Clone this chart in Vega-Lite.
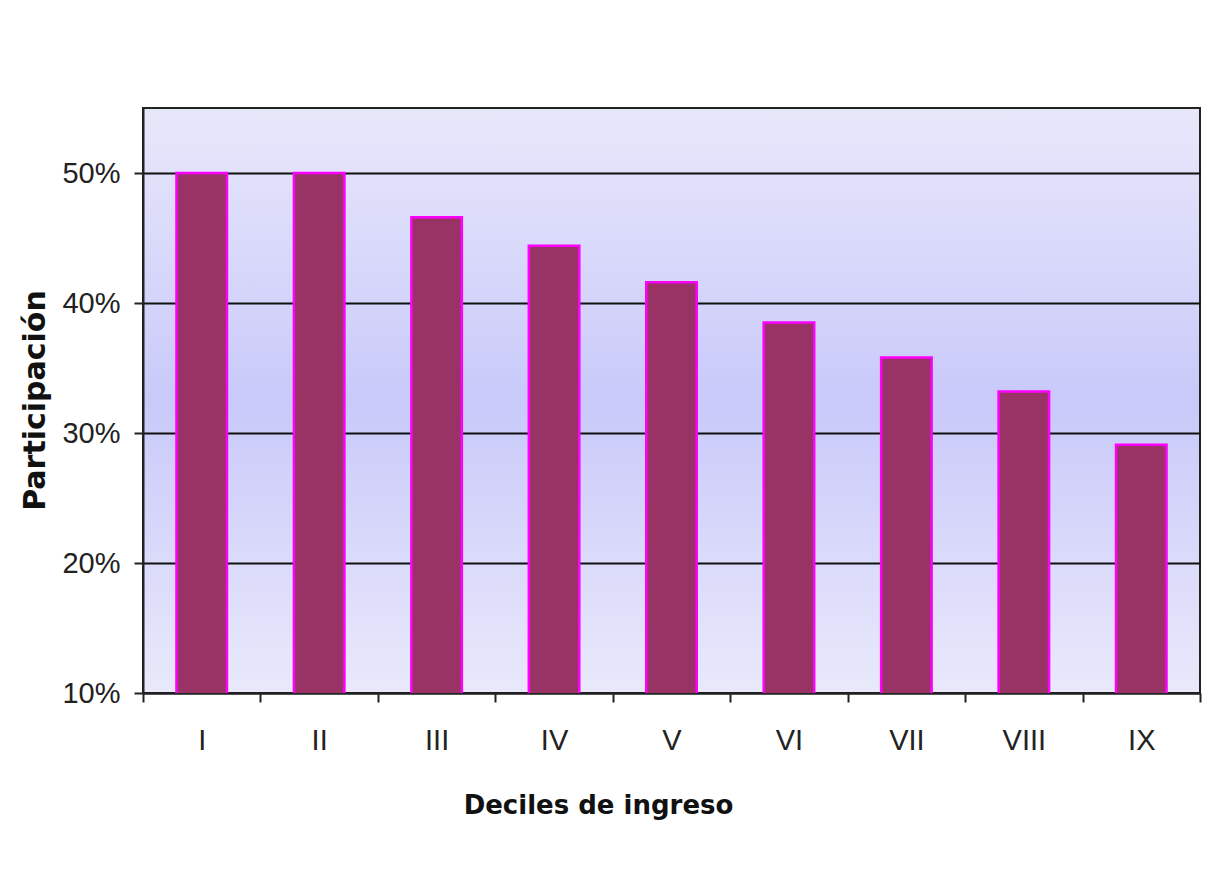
{
  "$schema": "https://vega.github.io/schema/vega-lite/v6.json",
  "width": 1057,
  "height": 585,
  "autosize": {"type": "none"},
  "padding": {"left": 143, "top": 108, "right": 29, "bottom": 181},
  "background": "white",
  "config": {
    "view": {
      "stroke": "#222222",
      "strokeWidth": 2,
      "fill": {
        "gradient": "linear",
        "x1": 0, "y1": 0, "x2": 0, "y2": 1,
        "stops": [
          {"offset": 0, "color": "#E8E8FB"},
          {"offset": 0.5, "color": "#C9C9FA"},
          {"offset": 1, "color": "#E9E9FB"}
        ]
      }
    }
  },
  "data": {
    "values": [
      {"decil": "I", "participacion": 0.500},
      {"decil": "II", "participacion": 0.500},
      {"decil": "III", "participacion": 0.466},
      {"decil": "IV", "participacion": 0.444},
      {"decil": "V", "participacion": 0.416},
      {"decil": "VI", "participacion": 0.385},
      {"decil": "VII", "participacion": 0.358},
      {"decil": "VIII", "participacion": 0.332},
      {"decil": "IX", "participacion": 0.291}
    ]
  },
  "mark": {"type": "bar", "fill": "#993366", "stroke": "#FF00FF", "strokeWidth": 2.5, "clip": true, "width": {"band": 0.43}},
  "encoding": {
    "x": {
      "field": "decil",
      "type": "nominal",
      "sort": null,
      "scale": {"paddingInner": 0, "paddingOuter": 0},
      "axis": {
        "title": "Deciles de ingreso",
        "titleFont": "DejaVu Sans",
        "titleFontWeight": "bold",
        "titleFontSize": 26,
        "titleColor": "#111111",
        "titleX": 455,
        "titleY": 112,
        "titleBaseline": "middle",
        "labelAngle": 0,
        "labelFont": "Liberation Sans Narrow, Arial Narrow, Liberation Sans",
        "labelFontSize": 29,
        "labelColor": "#222222",
        "labelPadding": 24,
        "tickBand": "extent",
        "tickSize": 9,
        "tickWidth": 2,
        "tickColor": "#222222",
        "domainColor": "#222222",
        "domainWidth": 2,
        "grid": false
      }
    },
    "y": {
      "field": "participacion",
      "type": "quantitative",
      "scale": {"domain": [0.1, 0.55], "nice": false, "zero": false},
      "axis": {
        "values": [0.1, 0.2, 0.3, 0.4, 0.5],
        "format": ".0%",
        "title": "Participación",
        "titleFont": "DejaVu Sans",
        "titleFontWeight": "bold",
        "titleFontSize": 30,
        "titleColor": "#111111",
        "titleX": -108,
        "titleY": 292,
        "titleBaseline": "middle",
        "titleAngle": -90,
        "labelFont": "Liberation Sans Narrow, Arial Narrow, Liberation Sans",
        "labelFontSize": 29,
        "labelColor": "#222222",
        "labelPadding": 14,
        "tickSize": 9,
        "tickWidth": 2,
        "tickColor": "#222222",
        "domainColor": "#222222",
        "domainWidth": 2,
        "grid": true,
        "gridColor": "#111111",
        "gridWidth": 2,
        "gridOpacity": 1
      }
    }
  }
}
